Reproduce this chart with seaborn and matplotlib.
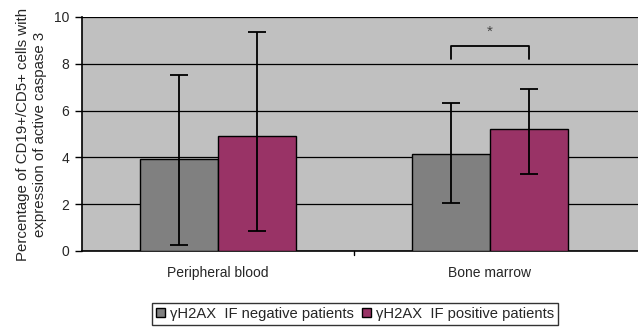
import matplotlib
matplotlib.use("Agg")
import matplotlib.pyplot as plt
import seaborn as sns
import pandas as pd
from matplotlib.patches import Patch

sns.set_theme(style="white")
plt.rcParams["font.family"] = ["Liberation Sans", "DejaVu Sans"]

sites = ["Peripheral blood", "Bone marrow"]
groups = ["\u03b3H2AX  IF negative patients", "\u03b3H2AX  IF positive patients"]
neg_mean = [3.92, 4.16]
pos_mean = [4.91, 5.20]
# whisker ends (lower, upper) for each bar
neg_low = [0.26, 2.06]
neg_high = [7.54, 6.31]
pos_low = [0.85, 3.27]
pos_high = [9.35, 6.94]
colors = ["#808080", "#993366"]

df = pd.DataFrame({
    "site": sites * 2,
    "group": [groups[0]] * 2 + [groups[1]] * 2,
    "value": neg_mean + pos_mean,
    "low": neg_low + pos_low,
    "high": neg_high + pos_high,
})

fig = plt.figure(figsize=(6.38, 3.28), dpi=100)
ax = fig.add_axes([82 / 638, 1 - 251 / 328, 1 - 82 / 638, 234 / 328])
ax.set_facecolor("#C0C0C0")

sns.barplot(data=df, x="site", y="value", hue="group", order=sites,
            hue_order=groups, palette=colors, saturation=1, width=0.574, gap=0,
            edgecolor="black", linewidth=1.0, errorbar=None, ax=ax,
            legend=False, zorder=3)

# error bars on the bar centres
for bar, (_, row) in zip(ax.patches, df.iterrows()):
    cx = bar.get_x() + bar.get_width() / 2
    yerr = [[row["value"] - row["low"]], [row["high"] - row["value"]]]
    ax.errorbar(cx, row["value"], yerr=yerr, fmt="none", ecolor="black",
                elinewidth=1.3, capsize=6.5, capthick=1.3, zorder=4)

ax.set_ylim(0, 10)
ax.set_xlim(-0.5, 1.5 + 12 / 272)
ax.set_yticks([0, 2, 4, 6, 8, 10])
ax.yaxis.grid(True, color="black", linewidth=0.9, zorder=1)
ax.set_axisbelow(True)
ax.set_xticks([0, 1])
ax.set_xticklabels(sites, fontsize=10)
ax.tick_params(axis="x", length=0, pad=11)
ax.tick_params(axis="y", direction="out", length=5, width=1, color="black",
               labelsize=10, pad=4, left=True)
ax.minorticks_off()
ax.plot([0.5, 0.5], [0, -0.15], color="black", lw=1, clip_on=False)

for s in ["top", "right"]:
    ax.spines[s].set_visible(False)
for s in ["left", "bottom"]:
    ax.spines[s].set_color("black")
    ax.spines[s].set_linewidth(1.2)

ax.set_xlabel("")
ax.set_ylabel("Percentage of CD19+/CD5+ cells with\nexpression of active caspase 3",
              fontsize=10.8, labelpad=5, linespacing=1.3)

# significance bracket over the bone marrow pair
bm_neg = ax.patches[1]
bm_pos = ax.patches[3]
x1 = bm_neg.get_x() + bm_neg.get_width() / 2
x2 = bm_pos.get_x() + bm_pos.get_width() / 2
ax.plot([x1, x1, x2, x2], [8.2, 8.77, 8.77, 8.2], color="black", lw=1.3, zorder=5)
ax.text((x1 + x2) / 2, 9.05, "*", ha="center", va="bottom", fontsize=11, color="#444444")

handles = [Patch(facecolor=c, edgecolor="black", linewidth=1) for c in colors]
leg = fig.legend(handles, groups, loc="center", bbox_to_anchor=(355 / 638, 1 - 314 / 328),
                 ncol=2, frameon=True, fontsize=10.6, handlelength=0.6, handleheight=0.6,
                 handletextpad=0.3, columnspacing=0.6, borderpad=0.3, fancybox=False)
leg.get_frame().set_edgecolor("black")
leg.get_frame().set_linewidth(1)

fig.savefig("out.png", dpi=100)
